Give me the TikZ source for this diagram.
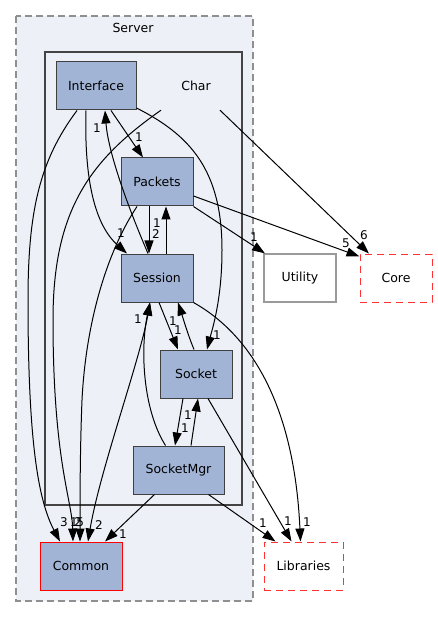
\documentclass[tikz,border=0pt]{standalone}
\usepackage{fontspec}
\setmainfont{DejaVu Sans}
\usetikzlibrary{arrows.meta}
\definecolor{nodeblue}{HTML}{A2B4D6}
\definecolor{clfill}{HTML}{EDF0F7}
\definecolor{nodeborder}{HTML}{404040}
\definecolor{charborder}{HTML}{444444}
\definecolor{srvborder}{HTML}{8F8F8F}
\definecolor{utilborder}{HTML}{9A9A9A}
\definecolor{dashred}{HTML}{FF3333}
\newcommand\dgnodefont{\fontsize{12.5}{15}\selectfont}
\newcommand\dglblfont{\fontsize{12}{14}\selectfont}
\tikzset{
  dirbox/.style={draw=nodeborder, fill=nodeblue, line width=1pt, minimum width=72pt,
    minimum height=48pt, inner sep=0pt, font=\dgnodefont},
  extbox/.style={draw=dashred, fill=white, line width=1pt, dash pattern=on 7pt off 5pt,
    minimum width=72pt, minimum height=48pt, inner sep=0pt, font=\dgnodefont},
  plainbox/.style={minimum width=72pt, minimum height=48pt, inner sep=0pt, font=\dgnodefont},
  dep/.style={line width=1pt, -{Triangle[length=13pt,width=9pt]}},
  bidep/.style={line width=1pt, {Triangle[length=13pt,width=9pt]}-{Triangle[length=13pt,width=9pt]}},
  num/.style={font=\dglblfont, inner sep=0pt}
}
\begin{document}
\begin{tikzpicture}[x=1pt,y=-1pt]
\useasboundingbox (0,0) rectangle (437,617);
% clusters
\draw[srvborder, fill=clfill, line width=1.2pt, dash pattern=on 7pt off 4pt] (16,16) rectangle (253,601);
\node[plainbox, minimum height=14pt] (serverlbl) at (133,28) {Server};
\draw[charborder, fill=clfill, line width=2pt] (45,52) rectangle (242,505);
% nodes
\node[plainbox] (charlbl) at (196,86) {Char};
\node[dirbox, minimum width=80pt] (interface) at (96,86) {Interface};
\node[dirbox] (packets) at (157,182) {Packets};
\node[dirbox] (session) at (157,278) {Session};
\node[dirbox] (socket) at (196,374) {Socket};
\node[dirbox, minimum width=91pt] (socketmgr) at (178.5,470) {SocketMgr};
\node[dirbox, draw=red, minimum width=82pt] (common) at (81,566) {Common};
\node[plainbox, draw=utilborder, fill=white, line width=1.2pt] (utility) at (300,278) {Utility};
\node[extbox] (core) at (396,278) {Core};
\node[extbox, minimum width=79pt] (libraries) at (303.5,566) {Libraries};
% edges into Common
\draw[dep] ([xshift=-19pt]interface.south) .. controls (40,160) and (28,210) .. (28,300)
  .. controls (28,440) and (38,500) .. ([xshift=-21pt]common.north);
\draw[dep] ([xshift=-35pt]charlbl.south) .. controls (90,160) and (53,210) .. (53,320)
  .. controls (53,460) and (72,500) .. ([xshift=-8pt]common.north);
\draw[dep] ([xshift=-20pt]packets.south) .. controls (108,250) and (86,320) .. (82,400)
  .. controls (80,450) and (80,500) .. ([xshift=-1pt]common.north);
\draw[bidep] ([xshift=-7pt]session.south) .. controls (140,360) and (100,470) .. ([xshift=7pt]common.north);
\draw[dep] ([xshift=-24pt]socketmgr.south) -- ([xshift=24pt]common.north);
% inside Char
\draw[dep] ([xshift=-13pt]socketmgr.north) .. controls (143,410) and (140,350) .. ([xshift=-7pt]session.south);
\draw[dep] ([xshift=15pt]interface.south) -- ([xshift=-14pt]packets.north);
\draw[dep] ([xshift=-9pt]session.north) .. controls (125,200) and (108,150) .. ([xshift=9pt]interface.south);
\draw[dep] ([xshift=-10pt]interface.south) .. controls (84,180) and (95,225) .. ([xshift=-30pt]session.north);
\draw[dep] ([yshift=-22pt]interface.east) .. controls (190,135) and (222,170) .. (222,250)
  .. controls (222,300) and (212,330) .. ([xshift=11pt]socket.north);
\draw[dep] ([xshift=-8pt]packets.south) -- ([xshift=-8pt]session.north);
\draw[dep] ([xshift=9pt]session.north) -- ([xshift=9pt]packets.south);
\draw[dep] ([xshift=2pt]session.south) -- ([xshift=-18pt]socket.north);
\draw[dep] ([xshift=-2pt]socket.north) .. controls (188,335) and (183,318) .. ([xshift=21pt]session.south);
\draw[dep] ([xshift=-13pt]socket.south) -- ([xshift=-3.5pt]socketmgr.north);
\draw[dep] ([xshift=12.5pt]socketmgr.north) -- ([xshift=2pt]socket.south);
% edges leaving the clusters
\draw[dep] (packets.south east) -- ([xshift=-35pt]utility.north);
\draw[dep] ([yshift=-14pt]packets.east) -- ([yshift=-3pt]core.north west);
\draw[dep] ([xshift=24pt]charlbl.south) -- ([xshift=-27pt]core.north);
\draw[dep] (session.south east) .. controls (260,340) and (295,420) .. ([xshift=-3pt]libraries.north);
\draw[dep] ([xshift=12pt]socket.south) -- ([xshift=-12pt]libraries.north);
\draw[dep] ([xshift=30pt]socketmgr.south) -- ([xshift=-28pt]libraries.north);
% labels
\node[num] (n1) at (64,522) {3};
\node[num] (n2) at (74,522) {1};
\node[num] (n3) at (78,522) {2};
\node[num] (n4) at (80.3,522) {5};
\node[num] (n5) at (99,525) {2};
\node[num] (n6) at (123,534) {1};
\node[num] (n7) at (138,319) {1};
\node[num] (n8) at (139,137) {1};
\node[num] (n9) at (97,128) {1};
\node[num] (n10) at (121,233) {1};
\node[num] (n11) at (217,335) {1};
\node[num] (n12) at (157,223) {1};
\node[num] (n13) at (156,234) {2};
\node[num] (n14) at (173,321) {1};
\node[num] (n15) at (178,330) {1};
\node[num] (n16) at (185,428) {1};
\node[num] (n17) at (188,415) {1};
\node[num] (n18) at (254,237) {1};
\node[num] (n19) at (346,243) {5};
\node[num] (n20) at (364,235) {6};
\node[num] (n21) at (307,522) {1};
\node[num] (n22) at (288,521) {1};
\node[num] (n23) at (263,523) {1};
\end{tikzpicture}
\end{document}
